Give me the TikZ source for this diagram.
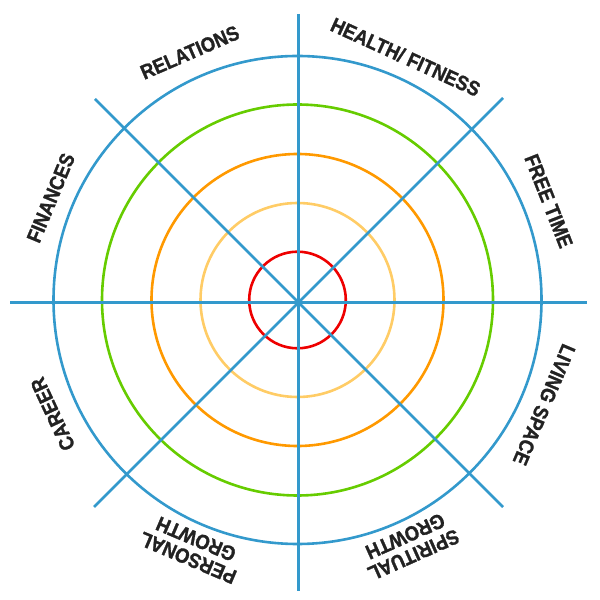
\documentclass[tikz,border=0pt]{standalone}
\usepackage{fontspec}
\setmainfont{Liberation Sans}
\newfontfamily\wheelfont[FakeStretch=0.9, FakeBold=1.3]{Liberation Sans Bold}
\begin{document}
\begin{tikzpicture}[x=1pt,y=1pt,
  ring/.style={line width=2.6pt},
  spoke/.style={line width=2.6pt, draw=wheelblue},
  lbl/.style={font=\wheelfont\fontsize{20.5}{20.5}\selectfont, text=labelgray, align=center, inner sep=0pt}]
\definecolor{wheelblue}{RGB}{51,153,204}
\definecolor{wheelgreen}{RGB}{102,204,0}
\definecolor{wheelorange}{RGB}{255,153,0}
\definecolor{wheellight}{RGB}{255,204,102}
\definecolor{wheelred}{RGB}{238,0,0}
\definecolor{labelgray}{RGB}{34,34,34}
\useasboundingbox (0,0) rectangle (600,600);
\coordinate (c) at (297.5,300);
\coordinate (o) at (298.5,297.5);
% rings
\draw[ring, wheelred] (c) circle (48.3);
\draw[ring, wheellight] (c) circle (97);
\draw[ring, wheelorange] (c) circle (146);
\draw[ring, wheelgreen] (c) circle (195.5);
\draw[ring, wheelblue] (c) circle (244);
% spokes
\coordinate (n) at ([shift={(0,288.5)}]o);
\coordinate (s) at ([shift={(0,-288.5)}]o);
\coordinate (e) at ([shift={(288.5,0)}]o);
\coordinate (w) at ([shift={(-288.5,0)}]o);
\coordinate (ne) at ([shift={(204.5,204.5)}]o);
\coordinate (sw) at ([shift={(-204.5,-204.5)}]o);
\coordinate (nw) at ([shift={(-203.5,203.5)}]o);
\coordinate (se) at ([shift={(204.5,-204.5)}]o);
\draw[spoke] (n) -- (s);
\draw[spoke] (w) -- (e);
\draw[spoke] (nw) -- (se);
\draw[spoke] (ne) -- (sw);
% labels
\node[lbl, rotate=23.5] (relations) at ([shift={(113.5:270)}]c) {RELATIONS};
\node[lbl, rotate=-24.5] (health) at ([shift={(66:266)}]c) {HEALTH/ FITNESS};
\node[lbl, rotate=-68.5] (free) at ([shift={(21.5:270)}]c) {FREE TIME};
\node[lbl, rotate=-113] (living) at ([shift={(-23:268)}]c) {LIVING SPACE};
\node[lbl, rotate=-156] (spiritual) at ([shift={(-65.5:270)}]c) {SPIRITUAL\\GROWTH};
\node[lbl, rotate=-203] (personal) at ([shift={(-113:270)}]c) {PERSONAL\\GROWTH};
\node[lbl, rotate=-245] (career) at ([shift={(-155:270)}]c) {CAREER};
\node[lbl, rotate=67.5] (finances) at ([shift={(157.5:267)}]c) {FINANCES};
\end{tikzpicture}
\end{document}
